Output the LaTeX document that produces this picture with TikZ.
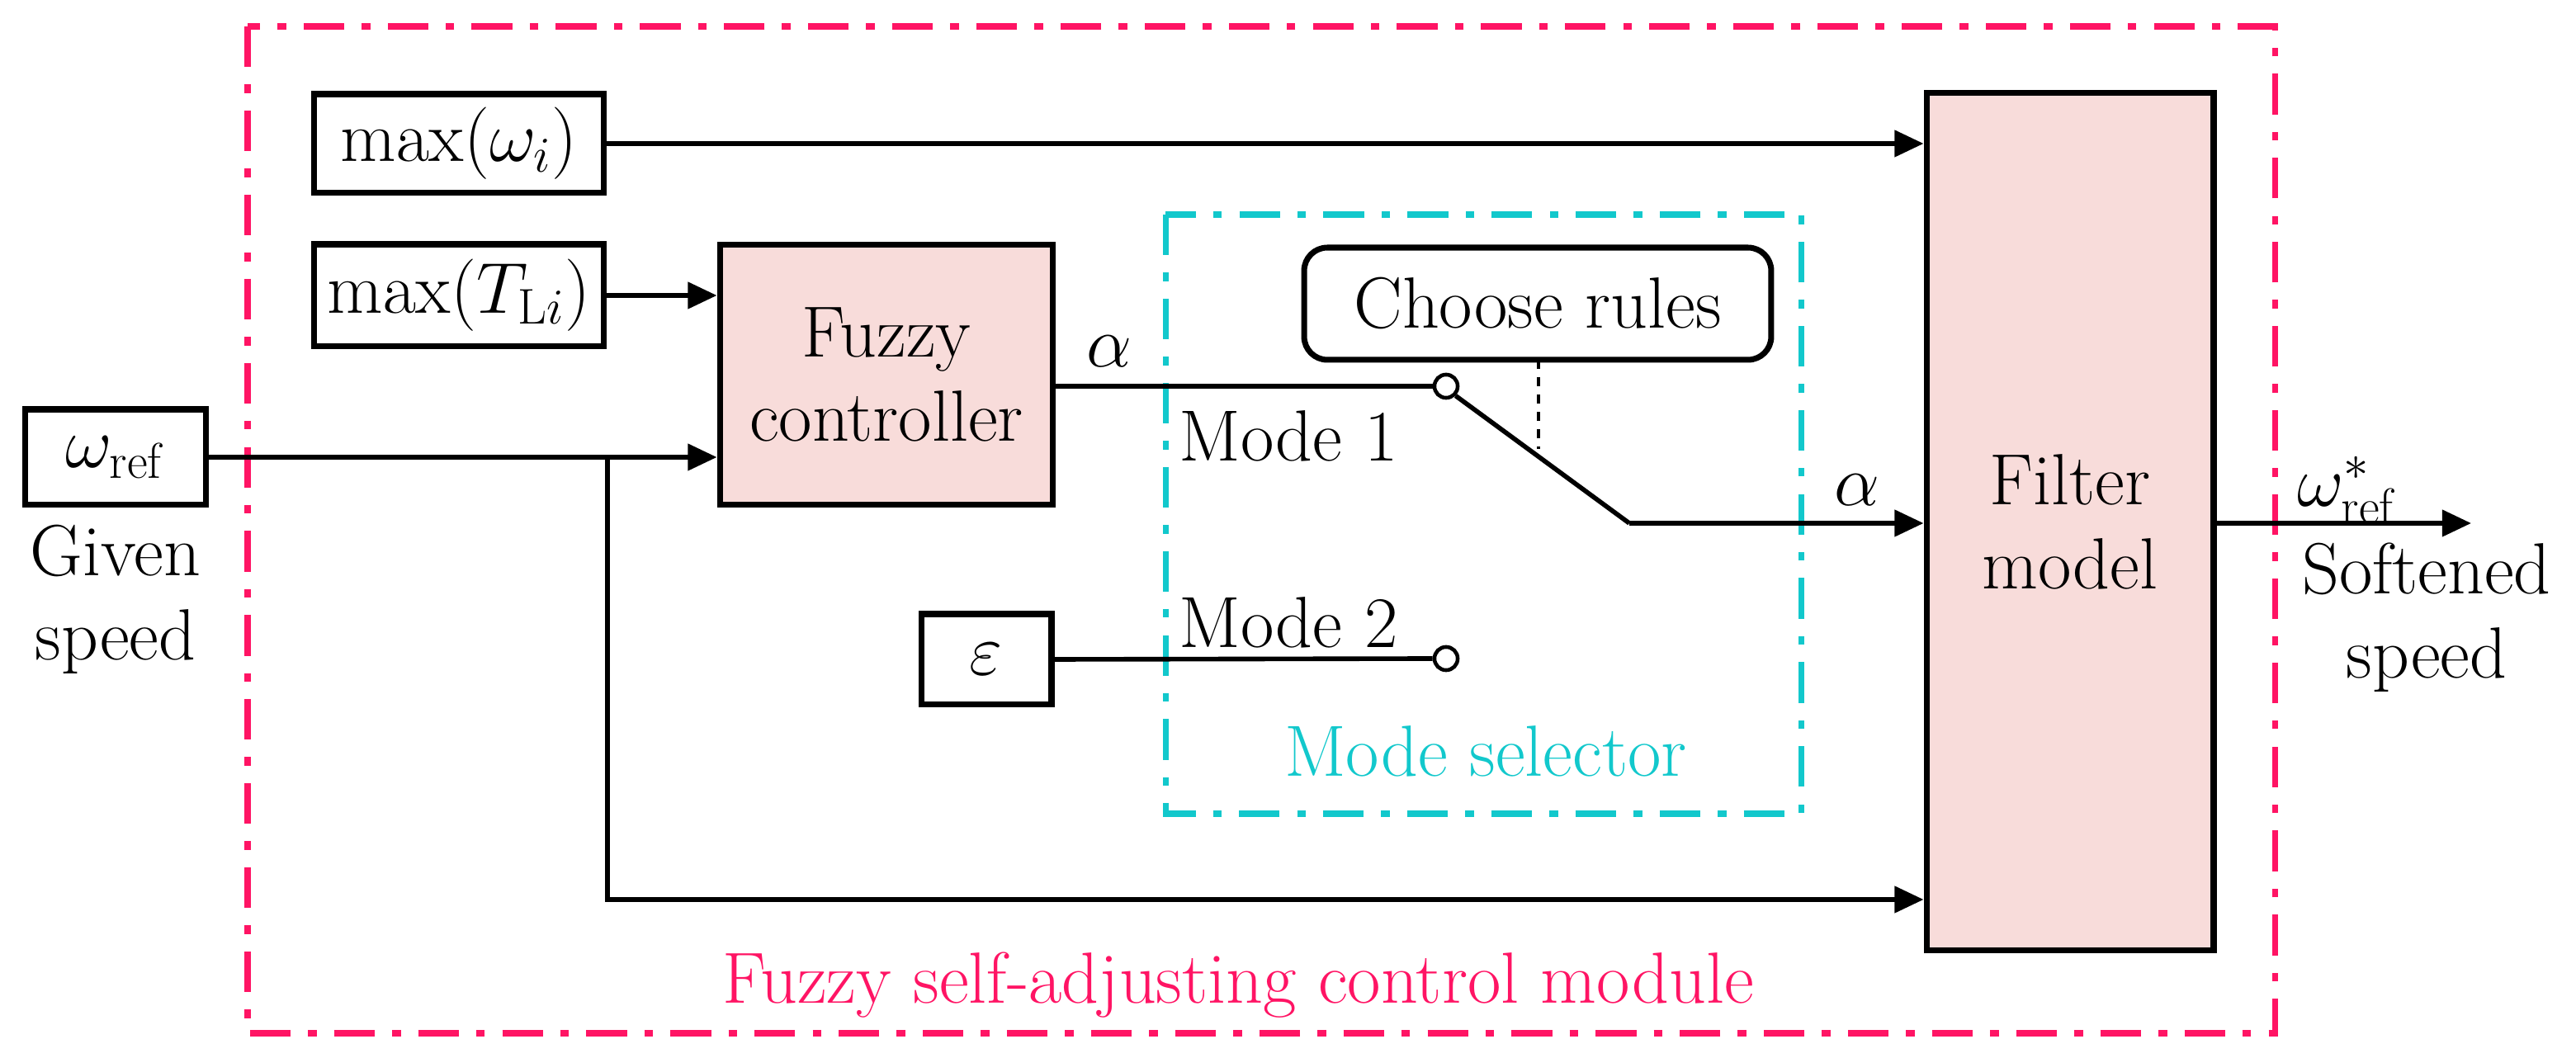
\documentclass[tikz,border=0pt]{standalone}
\usetikzlibrary{arrows.meta}
\definecolor{pinkc}{HTML}{FF1464}
\definecolor{cyanc}{HTML}{12C8CC}
\definecolor{fillc}{HTML}{F8DCDA}
\begin{document}
\begin{tikzpicture}[x=0.02cm,y=-0.02cm,
  every node/.style={font=\fontsize{25}{29}\selectfont},
  blk/.style={draw,line width=2pt,inner sep=0pt},
  ln/.style={line width=1.6pt},
  arr/.style={ln,-{Triangle[length=10pt,width=9pt]}},
  sw/.style={draw,circle,line width=1.3pt,inner sep=0pt,minimum size=8pt,fill=white}]
\useasboundingbox (0,0) rectangle (1560.5,641);
\draw[pinkc,line width=2pt,dash pattern=on 14pt off 6pt on 3pt off 6pt] (150,16) rectangle (1378,626);
\draw[cyanc,line width=2pt,dash pattern=on 14pt off 6pt on 3pt off 6pt] (706,130) rectangle (1091,493);
\node[blk,minimum width=3.52cm,minimum height=1.2cm] (mw) at (278,87) {$\max(\omega_i)$};
\node[blk,minimum width=3.52cm,minimum height=1.24cm] (mt) at (278,179) {$\max(T_{\mathrm{L}i})$};
\node[blk,fill=fillc,minimum width=4.04cm,minimum height=3.16cm,align=center] (fc) at (537,227) {Fuzzy\\controller};
\node[blk,minimum width=2.2cm,minimum height=1.16cm] (wr) at (70,277) {$\omega_{\mathrm{ref}}$};
\node[align=center,anchor=north] (gs) at (70,312) {Given\\speed};
\node[blk,rounded corners=8pt,minimum width=5.66cm,minimum height=1.36cm] (cr) at (931.5,184) {Choose rules};
\node[blk,minimum width=1.58cm,minimum height=1.1cm] (ep) at (597.5,399.5) {$\varepsilon$};
\node[blk,fill=fillc,minimum width=3.48cm,minimum height=10.4cm,align=center] (fm) at (1254,316) {Filter\\model};
\node[sw] (s1) at (876,234) {};
\node[sw] (s2) at (876,399) {};
\coordinate (k) at (987,317);
\coordinate (br) at (368,277);
\coordinate (bb) at (368,545);
\coordinate (out) at (1497,317);
\coordinate (d1) at (932,218);
\coordinate (d2) at (932,272);
\draw[arr] (mw.east) -- (mw.east -| fm.west);
\draw[arr] (mt.east) -- (mt.east -| fc.west);
\draw[arr] (wr.east) -- (wr.east -| fc.west);
\draw[arr] (br) -- (bb) -- (bb -| fm.west);
\draw[ln] (fc.east |- s1) -- (s1.west);
\draw[ln] (s1.south east) -- (k);
\draw[arr] (k) -- (k -| fm.west);
\draw[ln] (ep.east) -- (s2.west);
\draw[ln,dashed,line width=1.2pt] (d1) -- (d2);
\draw[arr] (fm.east |- out) -- (out);
\node (a1) at (672,213) {$\alpha$};
\node (a2) at (1125,297) {$\alpha$};
\node (wo) at (1422,297) {$\omega^{*}_{\mathrm{ref}}$};
\node[anchor=west,inner sep=0pt] (m1) at (714,264) {Mode 1};
\node[anchor=west,inner sep=0pt] (m2) at (714,377) {Mode 2};
\node[align=center] (ss) at (1470,374) {Softened\\speed};
\node[text=cyanc] (ms) at (900,455) {Mode selector};
\node[text=pinkc] (fs) at (750,597) {Fuzzy self-adjusting control module};
\end{tikzpicture}
\end{document}
